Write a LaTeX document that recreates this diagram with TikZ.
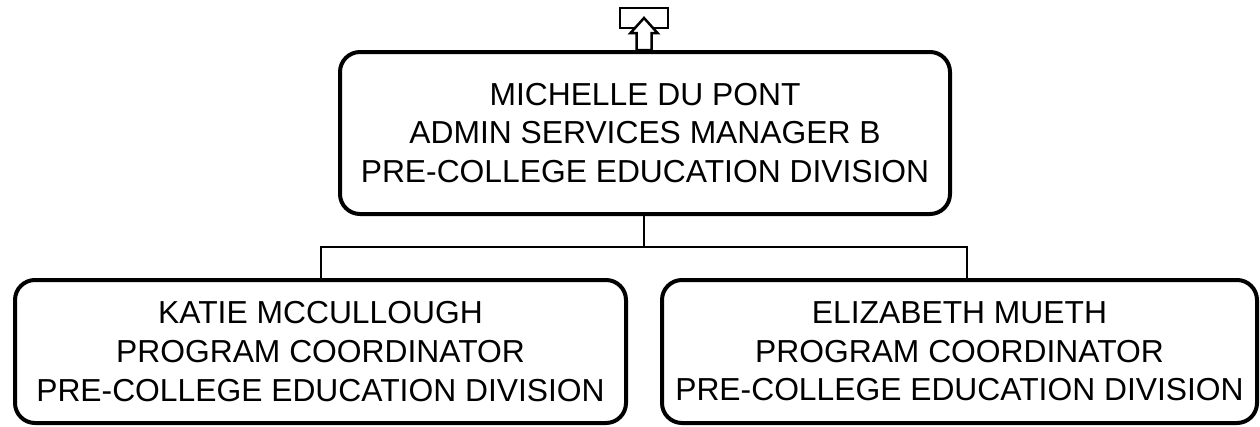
\documentclass[tikz,border=0pt]{standalone}
\usepackage{fontspec}
\setmainfont{Liberation Sans}
\usetikzlibrary{calc}
\tikzset{
  person/.style={draw, line width=4pt, rounded corners=20pt, align=center,
    inner sep=0pt, font=\fontsize{31.8}{38.7}\selectfont},
  conn/.style={draw, line width=2pt},
  icon/.style={draw, line width=2.5pt, line join=miter}
}
\begin{document}
\begin{tikzpicture}[x=1pt,y=-1pt]
\useasboundingbox (0,0) rectangle (1260,426);
\node[person, minimum width=610pt, minimum height=162pt] (top) at (645,133)
  {MICHELLE DU PONT\\ADMIN SERVICES MANAGER B\\PRE-COLLEGE EDUCATION DIVISION};
\node[person, minimum width=611pt, minimum height=143pt] (left) at (320.5,351.5)
  {KATIE MCCULLOUGH\\PROGRAM COORDINATOR\\PRE-COLLEGE EDUCATION DIVISION};
\node[person, minimum width=595pt, minimum height=143pt] (right) at (959.5,351.5)
  {ELIZABETH MUETH\\PROGRAM COORDINATOR\\PRE-COLLEGE EDUCATION DIVISION};
\coordinate (j) at (644,247);
\coordinate (rj) at (967,247);
\draw[conn] ($(top.south)+(-1,0)$) -- (j);
\draw[conn] (left.north) |- (j) -- (rj) -- (rj |- right.north);
% icon
\draw[icon, fill=white] (620,8) rectangle (668,28);
\draw[icon, fill=white] (644,18) -- (630.5,33) -- (636.5,33) -- (636.5,50)
  -- (651.5,50) -- (651.5,33) -- (657.5,33) -- cycle;
\end{tikzpicture}
\end{document}
